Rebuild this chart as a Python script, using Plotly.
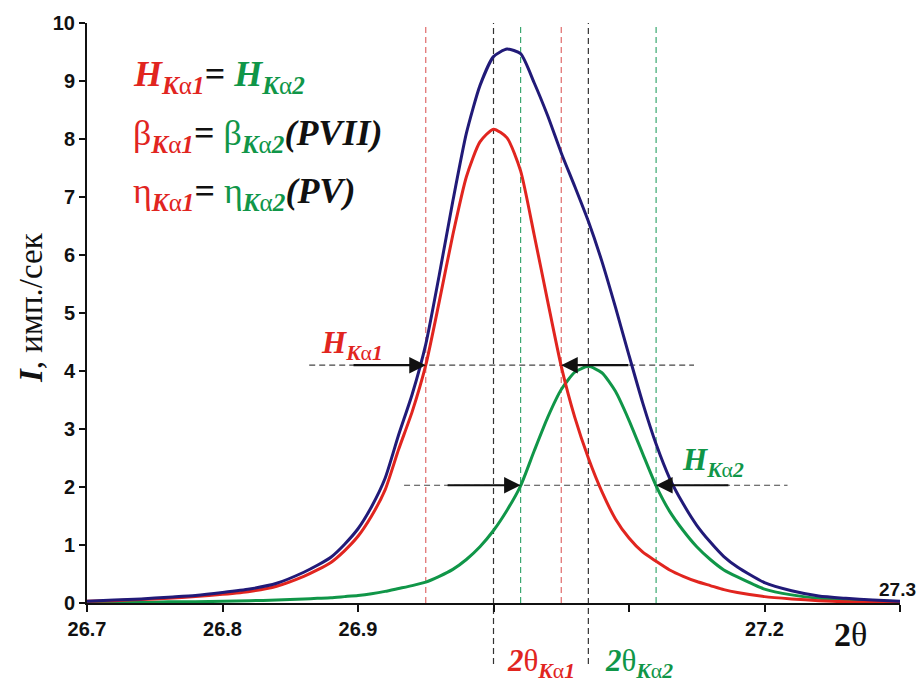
import plotly.graph_objects as go

# ---------------- data ----------------
two_theta = [26.70, 26.72, 26.74, 26.76, 26.78, 26.80, 26.82, 26.84, 26.86, 26.87,
             26.88, 26.89, 26.90, 26.91, 26.92, 26.93, 26.94, 26.95, 26.96, 26.97,
             26.98, 26.99, 27.00, 27.01, 27.02, 27.03, 27.04, 27.05, 27.06, 27.07,
             27.08, 27.09, 27.10, 27.11, 27.12, 27.13, 27.14, 27.15, 27.16, 27.17,
             27.18, 27.20, 27.22, 27.24, 27.26, 27.28, 27.30]

i_ka1 = [0.03, 0.04, 0.06, 0.08, 0.11, 0.15, 0.20, 0.29, 0.46, 0.57,
         0.70, 0.90, 1.15, 1.50, 1.95, 2.65, 3.30, 4.10, 5.20, 6.35,
         7.35, 7.95, 8.17, 8.02, 7.45, 6.35, 5.20, 4.08, 3.20, 2.50,
         1.92, 1.45, 1.12, 0.88, 0.72, 0.57, 0.46, 0.37, 0.30, 0.23,
         0.18, 0.11, 0.07, 0.04, 0.02, 0.01, 0.01]

i_ka2 = [0.00, 0.01, 0.01, 0.02, 0.02, 0.03, 0.04, 0.05, 0.07, 0.08,
         0.09, 0.11, 0.13, 0.16, 0.20, 0.25, 0.30, 0.36, 0.46, 0.58,
         0.75, 0.97, 1.25, 1.60, 2.02, 2.62, 3.20, 3.68, 3.98, 4.08,
         3.97, 3.65, 3.15, 2.58, 2.02, 1.58, 1.25, 0.97, 0.75, 0.57,
         0.45, 0.24, 0.14, 0.08, 0.06, 0.04, 0.02]

i_sum = [0.03, 0.05, 0.07, 0.10, 0.13, 0.18, 0.24, 0.34, 0.53, 0.65,
         0.79, 1.01, 1.28, 1.66, 2.15, 2.90, 3.60, 4.46, 5.66, 6.93,
         8.10, 8.92, 9.42, 9.55, 9.47, 8.97, 8.40, 7.76, 7.18, 6.58,
         5.89, 5.10, 4.27, 3.46, 2.74, 2.15, 1.71, 1.34, 1.05, 0.80,
         0.62, 0.35, 0.21, 0.12, 0.08, 0.05, 0.03]

x_tick_vals = [26.7, 26.8, 26.9, 27.0, 27.1, 27.2, 27.3]
x_tick_text = ["26.7", "26.8", "26.9", "", "", "27.2", ""]
y_tick_vals = [0, 1, 2, 3, 4, 5, 6, 7, 8, 9, 10]

peak_ka1 = 27.00
peak_ka2 = 27.07
fwhm_ka1 = [26.95, 27.05]
fwhm_ka2 = [27.02, 27.12]
half_ka1 = 4.10
half_ka2 = 2.03

RED = "#E1251F"
GREEN = "#109648"
BLUE = "#211A78"
DARK = "#111111"
SERIF = "Liberation Serif, Times New Roman, serif"
SANS = "Liberation Sans, Arial, sans-serif"

fig = go.Figure()
fig.add_trace(go.Scatter(x=two_theta, y=i_ka2, mode="lines",
                         line=dict(color=GREEN, width=3, shape="spline", smoothing=0.6),
                         showlegend=False))
fig.add_trace(go.Scatter(x=two_theta, y=i_ka1, mode="lines",
                         line=dict(color=RED, width=3, shape="spline", smoothing=0.6),
                         showlegend=False))
fig.add_trace(go.Scatter(x=two_theta, y=i_sum, mode="lines",
                         line=dict(color=BLUE, width=3, shape="spline", smoothing=0.6),
                         showlegend=False))

shapes = []

def vline(x, color, bottom=0.0):
    shapes.append(dict(type="line", xref="x", yref="paper", x0=x, x1=x, y0=bottom, y1=1,
                       line=dict(color=color, width=1.2, dash="6px,4px"), layer="below"))

vline(fwhm_ka1[0], "#E06A6A")
vline(fwhm_ka1[1], "#E06A6A")
vline(fwhm_ka2[0], "#3AA870")
vline(fwhm_ka2[1], "#3AA870")
vline(peak_ka1, "#333333", bottom=-0.105)
vline(peak_ka2, "#333333", bottom=-0.105)

shapes.append(dict(type="line", xref="x", yref="y", x0=26.864, x1=27.148, y0=half_ka1, y1=half_ka1,
                   line=dict(color="#444444", width=1.2, dash="6px,4px"), layer="below"))
shapes.append(dict(type="line", xref="x", yref="y", x0=26.934, x1=27.217, y0=half_ka2, y1=half_ka2,
                   line=dict(color="#444444", width=1.2, dash="6px,4px"), layer="below"))

annotations = []

def arrow(x_head, x_tail, y):
    annotations.append(dict(x=x_head, y=y, ax=x_tail, ay=y, xref="x", yref="y",
                            axref="x", ayref="y", text="", showarrow=True,
                            arrowhead=2, arrowsize=1.5, arrowwidth=2.2, arrowcolor=DARK,
                            standoff=0, startstandoff=0))

arrow(fwhm_ka1[0], 26.8956, half_ka1)
arrow(fwhm_ka1[1], 27.1007, half_ka1)
arrow(fwhm_ka2[0], 26.965, half_ka2)
arrow(fwhm_ka2[1], 27.1745, half_ka2)

def sub_ka(n):
    return f"<sub><b><i>K</i></b>α<b><i>{n}</i></b></sub>"

def px_to_paper(px, py):
    return (px - 87) / 813.0, (603 - py) / 580.0

def text(px, py, s, size, xanchor="left", family=SERIF, color=DARK, angle=0):
    xp, yp = px_to_paper(px, py)
    annotations.append(dict(x=xp, y=yp, xref="paper", yref="paper", text=s, showarrow=False,
                            xanchor=xanchor, yanchor="middle", textangle=angle,
                            font=dict(family=family, size=size, color=color)))

line1 = (f"<span style='color:{RED}'><b><i>H</i></b>{sub_ka(1)}</span><b>=</b> "
         f"<span style='color:{GREEN}'><b><i>H</i></b>{sub_ka(2)}</span>")
line2 = (f"<span style='color:{RED}'>β{sub_ka(1)}</span><b>=</b> "
         f"<span style='color:{GREEN}'>β{sub_ka(2)}</span><b><i>(PVII)</i></b>")
line3 = (f"<span style='color:{RED}'>η{sub_ka(1)}</span><b>=</b> "
         f"<span style='color:{GREEN}'>η{sub_ka(2)}</span><b><i>(PV)</i></b>")
text(131, 76, line1, 36)
text(131, 135, line2, 36)
text(131, 193, line3, 36)

# half-width labels
text(352, 345, f"<span style='color:{RED}'><b><i>H</i></b>{sub_ka(1)}</span>", 31, xanchor="center")
text(713, 462, f"<span style='color:{GREEN}'><b><i>H</i></b>{sub_ka(2)}</span>", 31, xanchor="center")

# peak-position labels below the axis
text(541, 663, f"<span style='color:{RED}'><b><i>2</i></b>θ{sub_ka(1)}</span>", 31, xanchor="center")
text(639, 663, f"<span style='color:{GREEN}'><b><i>2</i></b>θ{sub_ka(2)}</span>", 31, xanchor="center")

# x axis title and the shifted 27.3 label
text(850, 634, "<b>2</b>θ", 34, xanchor="center")
text(897, 589, "<b>27.3</b>", 19, xanchor="center", family=SANS)

# y axis title
text(31, 308, "<b><i>I</i></b>, имп./сек", 33, xanchor="center", angle=-90)

fig.update_layout(
    width=923, height=687,
    margin=dict(l=87, r=23, t=23, b=84, autoexpand=False),
    paper_bgcolor="white", plot_bgcolor="white",
    shapes=shapes, annotations=annotations,
    xaxis=dict(range=[26.7, 27.3], tickvals=x_tick_vals, ticktext=x_tick_text,
               showgrid=False, zeroline=False, showline=True, linecolor="#111111", linewidth=2,
               ticks="outside", ticklen=7, tickwidth=2, tickcolor="#111111",
               tickfont=dict(family=SANS, size=20, color="#111111", weight="bold"),
               automargin=False),
    yaxis=dict(range=[0, 10], tickvals=y_tick_vals,
               showgrid=False, zeroline=False, showline=True, linecolor="#111111", linewidth=2,
               ticks="outside", ticklen=6, tickwidth=2, tickcolor="#111111",
               tickfont=dict(family=SANS, size=20, color="#111111", weight="bold"),
               automargin=False),
)

fig.write_html("out.html")
